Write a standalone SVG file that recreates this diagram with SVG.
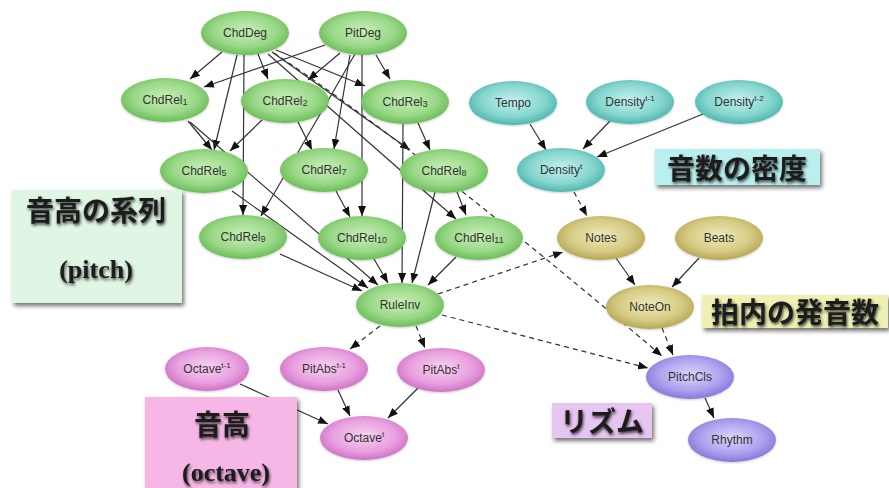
<svg xmlns="http://www.w3.org/2000/svg" width="889" height="488" viewBox="0 0 889 488">
  <defs>
    <radialGradient id="gGreen" cx="50%" cy="45%" r="60%">
      <stop offset="0" stop-color="#c8efb8"/>
      <stop offset="0.6" stop-color="#99d887"/>
      <stop offset="1" stop-color="#5fb54d"/>
    </radialGradient>
    <radialGradient id="gTeal" cx="50%" cy="45%" r="60%">
      <stop offset="0" stop-color="#c4f1ec"/>
      <stop offset="0.6" stop-color="#86d6cf"/>
      <stop offset="1" stop-color="#3faea4"/>
    </radialGradient>
    <radialGradient id="gOlive" cx="50%" cy="45%" r="60%">
      <stop offset="0" stop-color="#efeabb"/>
      <stop offset="0.6" stop-color="#d6cb84"/>
      <stop offset="1" stop-color="#ad9d45"/>
    </radialGradient>
    <radialGradient id="gPink" cx="50%" cy="45%" r="60%">
      <stop offset="0" stop-color="#f8d2f2"/>
      <stop offset="0.6" stop-color="#e8a0df"/>
      <stop offset="1" stop-color="#c865bd"/>
    </radialGradient>
    <radialGradient id="gPurple" cx="50%" cy="45%" r="60%">
      <stop offset="0" stop-color="#dcd6fb"/>
      <stop offset="0.6" stop-color="#ada1ee"/>
      <stop offset="1" stop-color="#7d6ad6"/>
    </radialGradient>
    <marker id="arrow" markerUnits="userSpaceOnUse" markerWidth="11" markerHeight="8" refX="10" refY="4" orient="auto">
      <path d="M0,0 L10,4 L0,8 z" fill="#111"/>
    </marker>
    <filter id="boxShadow" x="-10%" y="-10%" width="125%" height="135%">
      <feDropShadow dx="2" dy="3" stdDeviation="2" flood-color="#000" flood-opacity="0.55"/>
    </filter>
    <filter id="txtShadow" x="-10%" y="-20%" width="120%" height="150%">
      <feDropShadow dx="1" dy="2" stdDeviation="1.8" flood-color="#000" flood-opacity="0.7"/>
    </filter>
    <filter id="nodeSoft" x="-10%" y="-10%" width="120%" height="130%">
      <feDropShadow dx="0" dy="1" stdDeviation="1" flood-color="#000" flood-opacity="0.2"/>
    </filter>
  </defs>
  <style>
    .edge { fill: none; stroke: #333; stroke-width: 1.2; marker-end: url(#arrow); }
    .dash { stroke-dasharray: 5 4; }
    .node ellipse { filter: url(#nodeSoft); }
    .green ellipse { fill: url(#gGreen); }
    .teal ellipse { fill: url(#gTeal); }
    .olive ellipse { fill: url(#gOlive); }
    .pink ellipse { fill: url(#gPink); }
    .purple ellipse { fill: url(#gPurple); }
    .node text { font-family: "Liberation Sans", Arial, sans-serif; font-size: 12px; fill: #333; text-anchor: middle; }
    .sub { font-size: 9px; }
    .sup { font-size: 8px; }
    .box { filter: url(#boxShadow); }
    .jp { font-family: "Noto Sans CJK JP", "Noto Sans CJK SC", sans-serif; font-weight: bold; font-size: 28px; fill: #1c1c1c; text-anchor: middle; filter: url(#txtShadow); }
    .en { font-family: "Liberation Serif", "Times New Roman", serif; font-weight: bold; font-size: 26px; fill: #1c1c1c; text-anchor: middle; filter: url(#txtShadow); }
  </style>

  <rect width="889" height="488" fill="#fff"/>

  <!-- connectors -->
  <g id="edges">
    <path class="edge" d="M222,52 L190,79"/>
    <path class="edge" d="M258,54 L268,79"/>
    <path class="edge" d="M276,50 L365,86"/>
    <path class="edge" d="M237,55 L214,150"/>
    <path class="edge" d="M244,55 L243,215"/>
    <path class="edge" d="M272,52 L410,150"/>
    <path class="edge" d="M268,54 L456,219"/>
    <path class="edge dash" d="M274,53 Q420,150 662,356"/>
    <path class="edge" d="M325,45 L204,87"/>
    <path class="edge" d="M340,53 L308,80"/>
    <path class="edge" d="M376,55 L390,79"/>
    <path class="edge" d="M350,55 L334,149"/>
    <path class="edge" d="M355,54 L261,216"/>
    <path class="edge" d="M362,55 L362,216"/>
    <path class="edge" d="M188,121 L212,150"/>
    <path class="edge" d="M262,120 L230,151"/>
    <path class="edge" d="M298,122 L312,150"/>
    <path class="edge" d="M418,123 L430,150"/>
    <path class="edge" d="M403,124 L402,283"/>
    <path class="edge" d="M232,191 L368,288"/>
    <path class="edge" d="M190,122 L378,285"/>
    <path class="edge" d="M336,191 L350,217"/>
    <path class="edge" d="M457,192 L466,215"/>
    <path class="edge" d="M435,192 L412,283"/>
    <path class="edge" d="M280,254 L362,291"/>
    <path class="edge" d="M374,259 L388,283"/>
    <path class="edge" d="M456,257 L428,285"/>
    <path class="edge dash" d="M438,294 L563,252"/>
    <path class="edge dash" d="M442,315 L648,368"/>
    <path class="edge dash" d="M380,326 L350,349"/>
    <path class="edge dash" d="M416,326 L425,348"/>
    <path class="edge" d="M530,124 L546,150"/>
    <path class="edge" d="M610,121 L583,149"/>
    <path class="edge" d="M703,114 L597,157"/>
    <path class="edge dash" d="M574,192 L587,216"/>
    <path class="edge" d="M616,258 L635,285"/>
    <path class="edge" d="M699,258 L672,287"/>
    <path class="edge dash" d="M662,328 L673,355"/>
    <path class="edge" d="M705,398 L714,418"/>
    <path class="edge" d="M240,384 L328,424"/>
    <path class="edge" d="M338,390 L350,416"/>
    <path class="edge" d="M418,388 L388,418"/>
  </g>

  <!-- pitch sequence nodes -->
  <g id="ChdDeg" class="node green"><ellipse cx="245" cy="33" rx="44" ry="22"/><text x="245" y="37">ChdDeg</text></g>
  <g id="PitDeg" class="node green"><ellipse cx="363" cy="33" rx="44" ry="22"/><text x="363" y="37">PitDeg</text></g>
  <g id="ChdRel1" class="node green"><ellipse cx="165" cy="100" rx="44" ry="22"/><text x="165" y="104">ChdRel<tspan class="sub" dy="1">1</tspan></text></g>
  <g id="ChdRel2" class="node green"><ellipse cx="285" cy="101" rx="44" ry="22"/><text x="285" y="105">ChdRel<tspan class="sub" dy="1">2</tspan></text></g>
  <g id="ChdRel3" class="node green"><ellipse cx="405" cy="102" rx="44" ry="22"/><text x="405" y="106">ChdRel<tspan class="sub" dy="1">3</tspan></text></g>
  <g id="ChdRel5" class="node green"><ellipse cx="204" cy="171" rx="44" ry="22"/><text x="204" y="175">ChdRel<tspan class="sub" dy="1">5</tspan></text></g>
  <g id="ChdRel7" class="node green"><ellipse cx="324" cy="170" rx="44" ry="22"/><text x="324" y="174">ChdRel<tspan class="sub" dy="1">7</tspan></text></g>
  <g id="ChdRel8" class="node green"><ellipse cx="444" cy="171" rx="44" ry="22"/><text x="444" y="175">ChdRel<tspan class="sub" dy="1">8</tspan></text></g>
  <g id="ChdRel9" class="node green"><ellipse cx="243" cy="237" rx="44" ry="22"/><text x="243" y="241">ChdRel<tspan class="sub" dy="1">9</tspan></text></g>
  <g id="ChdRel10" class="node green"><ellipse cx="362" cy="238" rx="44" ry="22"/><text x="362" y="242">ChdRel<tspan class="sub" dy="1">10</tspan></text></g>
  <g id="ChdRel11" class="node green"><ellipse cx="479" cy="238" rx="44" ry="22"/><text x="479" y="242">ChdRel<tspan class="sub" dy="1">11</tspan></text></g>
  <g id="RuleInv" class="node green"><ellipse cx="400" cy="305" rx="44" ry="22"/><text x="400" y="309">RuleInv</text></g>

  <!-- note density nodes -->
  <g id="Tempo" class="node teal"><ellipse cx="513" cy="103" rx="44" ry="22"/><text x="513" y="107">Tempo</text></g>
  <g id="DensityT1" class="node teal"><ellipse cx="630" cy="102" rx="44" ry="22"/><text x="630" y="106">Density<tspan class="sup" dy="-5">t-1</tspan></text></g>
  <g id="DensityT2" class="node teal"><ellipse cx="739" cy="102" rx="44" ry="22"/><text x="739" y="106">Density<tspan class="sup" dy="-5">t-2</tspan></text></g>
  <g id="DensityT" class="node teal"><ellipse cx="561" cy="170" rx="44" ry="22"/><text x="561" y="174">Density<tspan class="sup" dy="-5">t</tspan></text></g>

  <!-- onset nodes -->
  <g id="Notes" class="node olive"><ellipse cx="601" cy="238" rx="44" ry="22"/><text x="601" y="242">Notes</text></g>
  <g id="Beats" class="node olive"><ellipse cx="719" cy="238" rx="44" ry="22"/><text x="719" y="242">Beats</text></g>
  <g id="NoteOn" class="node olive"><ellipse cx="650" cy="307" rx="44" ry="22"/><text x="650" y="311">NoteOn</text></g>

  <!-- rhythm nodes -->
  <g id="PitchCls" class="node purple"><ellipse cx="690" cy="377" rx="44" ry="22"/><text x="690" y="381">PitchCls</text></g>
  <g id="Rhythm" class="node purple"><ellipse cx="732" cy="440" rx="44" ry="22"/><text x="732" y="444">Rhythm</text></g>

  <!-- octave nodes -->
  <g id="OctaveT1" class="node pink"><ellipse cx="207" cy="369" rx="42" ry="22"/><text x="207" y="373">Octave<tspan class="sup" dy="-5">t-1</tspan></text></g>
  <g id="PitAbsT1" class="node pink"><ellipse cx="324" cy="369" rx="44" ry="22"/><text x="324" y="373">PitAbs<tspan class="sup" dy="-5">t-1</tspan></text></g>
  <g id="PitAbsT" class="node pink"><ellipse cx="441" cy="370" rx="44" ry="22"/><text x="441" y="374">PitAbs<tspan class="sup" dy="-5">t</tspan></text></g>
  <g id="OctaveT" class="node pink"><ellipse cx="364" cy="438" rx="44" ry="22"/><text x="364" y="442">Octave<tspan class="sup" dy="-5">t</tspan></text></g>

  <!-- group captions -->
  <g id="capPitch">
    <rect class="box" x="12" y="190" width="170" height="113" fill="#e0f5e4"/>
    <text class="jp" x="96" y="221">音高の系列</text>
    <text class="en" x="96" y="278">(pitch)</text>
  </g>
  <g id="capDensity">
    <rect class="box" x="655" y="149" width="165" height="36" fill="#b9f0ef"/>
    <text class="jp" x="737" y="179">音数の密度</text>
  </g>
  <g id="capOnset">
    <rect class="box" x="702" y="295" width="186" height="33" fill="#eef1b3"/>
    <text class="jp" x="795" y="323">拍内の発音数</text>
  </g>
  <g id="capRhythm">
    <rect class="box" x="552" y="403" width="100" height="35" fill="#e7c5f1"/>
    <text class="jp" x="602" y="432">リズム</text>
  </g>
  <g id="capOctave">
    <rect class="box" x="145" y="397" width="152" height="91" fill="#f7b7e6"/>
    <text class="jp" x="222" y="435">音高</text>
    <text class="en" x="226" y="481">(octave)</text>
  </g>
</svg>
